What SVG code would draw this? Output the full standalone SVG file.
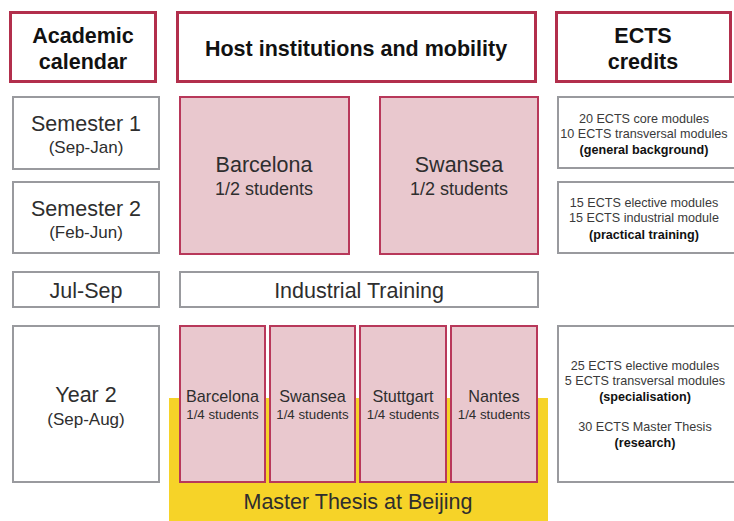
<svg xmlns="http://www.w3.org/2000/svg" width="734" height="521" viewBox="0 0 734 521">
<style>
.hdr{fill:#fff;stroke:#b22f4c;stroke-width:3}
.cal{fill:#fff;stroke:#999a9e;stroke-width:2}
.host{fill:#e9c8ce;stroke:#b8385a;stroke-width:2}
text{font-family:"Liberation Sans",Arial,sans-serif;text-anchor:middle;fill:#2e2e2e}
.h{font-weight:bold;font-size:21.5px;fill:#111}
.l{font-size:21.5px}
.s{font-size:17px}
.m{font-size:18px}
.sm{font-size:16.2px}
.t{font-size:13.3px}
.e{font-size:12.6px;fill:#3a3a3a}
.b{font-weight:bold;fill:#111}
</style>
<rect x="169" y="398" width="379" height="130" fill="#f6d328"/>
<g id="hdr-academic"><rect class="hdr" x="10.5" y="12.5" width="145" height="69"/><text class="h" x="83" y="43">Academic</text><text class="h" x="83" y="69">calendar</text></g>
<g id="hdr-host"><rect class="hdr" x="177.5" y="12.5" width="358" height="69"/><text class="h" x="356" y="56">Host institutions and mobility</text></g>
<g id="hdr-ects"><rect class="hdr" x="556.5" y="12.5" width="174" height="69"/><text class="h" x="643" y="43">ECTS</text><text class="h" x="643" y="69">credits</text></g>
<g id="sem1"><rect class="cal" x="13" y="97" width="146" height="72"/><text class="l" x="86" y="131">Semester 1</text><text class="s" x="86" y="153">(Sep-Jan)</text></g>
<g id="sem2"><rect class="cal" x="13" y="182" width="146" height="71"/><text class="l" x="86" y="216">Semester 2</text><text class="s" x="86" y="238">(Feb-Jun)</text></g>
<g id="julsep"><rect class="cal" x="13" y="272" width="146" height="35"/><text class="l" x="86" y="298">Jul-Sep</text></g>
<g id="year2"><rect class="cal" x="13" y="326" width="146" height="156"/><text class="l" x="86" y="402">Year 2</text><text class="s" x="86" y="425">(Sep-Aug)</text></g>
<g id="barcelona1"><rect class="host" x="180" y="97" width="169" height="157"/><text class="l" x="264" y="172">Barcelona</text><text class="m" x="264" y="195">1/2 students</text></g>
<g id="swansea1"><rect class="host" x="380" y="97" width="158" height="157"/><text class="l" x="459" y="172">Swansea</text><text class="m" x="459" y="195">1/2 students</text></g>
<g id="industrial"><rect class="cal" x="180" y="272" width="358" height="35"/><text class="l" x="359" y="298">Industrial Training</text></g>
<g id="thesis"><text class="l" x="358" y="509">Master Thesis at Beijing</text></g>
<g id="barcelona2"><rect class="host" x="180" y="326" width="85" height="156"/><text class="sm" x="222.5" y="402">Barcelona</text><text class="t" x="222.5" y="419">1/4 students</text></g>
<g id="swansea2"><rect class="host" x="270" y="326" width="85" height="156"/><text class="sm" x="312.5" y="402">Swansea</text><text class="t" x="312.5" y="419">1/4 students</text></g>
<g id="stuttgart"><rect class="host" x="360" y="326" width="86" height="156"/><text class="sm" x="403" y="402">Stuttgart</text><text class="t" x="403" y="419">1/4 students</text></g>
<g id="nantes"><rect class="host" x="451" y="326" width="86" height="156"/><text class="sm" x="494" y="402">Nantes</text><text class="t" x="494" y="419">1/4 students</text></g>
<g id="ects1"><rect class="cal" x="558" y="97" width="180" height="71"/><text class="e" x="644" y="123">20 ECTS core modules</text><text class="e" x="644" y="138">10 ECTS transversal modules</text><text class="e b" x="644" y="154">(general background)</text></g>
<g id="ects2"><rect class="cal" x="558" y="182" width="180" height="71"/><text class="e" x="644" y="207">15 ECTS elective modules</text><text class="e" x="644" y="222">15 ECTS industrial module</text><text class="e b" x="644" y="239">(practical training)</text></g>
<g id="ects3"><rect class="cal" x="558" y="326" width="180" height="156"/><text class="e" x="645" y="370">25 ECTS elective modules</text><text class="e" x="645" y="385">5 ECTS transversal modules</text><text class="e b" x="645" y="401">(specialisation)</text><text class="e" x="645" y="431">30 ECTS Master Thesis</text><text class="e b" x="645" y="447">(research)</text></g>
<g id="connectors"></g>
</svg>
